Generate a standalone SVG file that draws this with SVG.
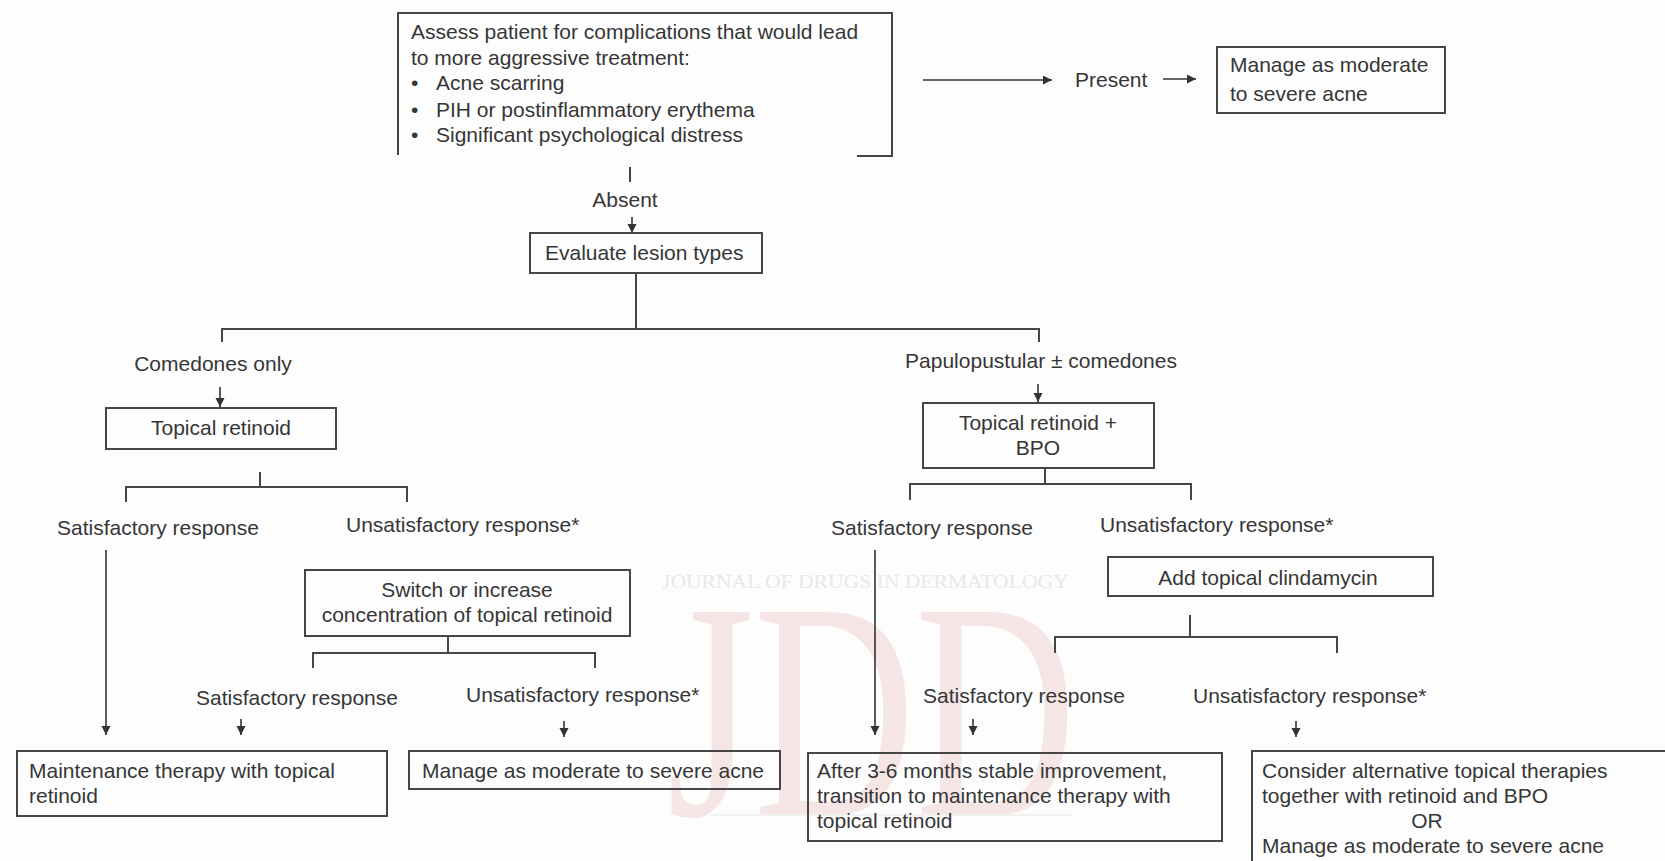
<svg xmlns="http://www.w3.org/2000/svg" width="1665" height="861" viewBox="0 0 1665 861">
<defs>
<marker id="ah" markerUnits="userSpaceOnUse" markerWidth="10" markerHeight="10" refX="9" refY="4.5" orient="auto">
<path d="M0,0 L9,4.5 L0,9 z" fill="#333"/>
</marker>
</defs>
<style>
.t{font-family:"Liberation Sans",Arial,sans-serif;font-size:21px;fill:#363636}
.c{text-anchor:middle}
.box{fill:none;stroke:#464646;stroke-width:2}
.ln{stroke:#464646;stroke-width:2;fill:none}
.ar{stroke:#333;stroke-width:1.6;fill:none;marker-end:url(#ah)}
.wm{font-family:"Liberation Serif","Times New Roman",serif}
</style>
<rect x="0" y="0" width="1665" height="861" fill="#fdfdfd"/>

<g id="watermark" opacity="0.5">
<text class="wm" transform="translate(662,588) scale(1.2,1)" font-size="18" fill="#d4d4d4">JOURNAL OF DRUGS IN DERMATOLOGY</text>
<text class="wm" transform="translate(667,815) scale(0.72,1)" font-size="310" fill="#efcfcf">JDD</text>
<line x1="711" y1="815" x2="1073" y2="815" stroke="#e6e6e6" stroke-width="2"/>
</g>

<g id="connectors">
<line class="ln" x1="630" y1="167" x2="630" y2="182"/>
<line class="ar" x1="632" y1="217" x2="632" y2="233"/>
<line class="ar" x1="923" y1="80" x2="1052" y2="80"/>
<line class="ar" x1="1163" y1="79" x2="1196" y2="79"/>
<line class="ln" x1="636" y1="273" x2="636" y2="329"/>
<path class="ln" d="M222,342 V329 H1039 V342"/>
<line class="ar" x1="220" y1="387" x2="220" y2="407"/>
<line class="ar" x1="1038" y1="384" x2="1038" y2="402"/>
<line class="ln" x1="260" y1="472" x2="260" y2="487"/>
<path class="ln" d="M126,502 V487 H407 V502"/>
<line class="ln" x1="1045" y1="468" x2="1045" y2="484"/>
<path class="ln" d="M910,500 V484 H1191 V500"/>
<line class="ar" x1="106" y1="550" x2="106" y2="735"/>
<line class="ar" x1="875" y1="550" x2="875" y2="735"/>
<line class="ln" x1="448" y1="636" x2="448" y2="653"/>
<path class="ln" d="M313,668 V653 H595 V668"/>
<line class="ln" x1="1190" y1="615" x2="1190" y2="637"/>
<path class="ln" d="M1055,653 V637 H1337 V653"/>
<line class="ar" x1="241" y1="719" x2="241" y2="735"/>
<line class="ar" x1="564" y1="721" x2="564" y2="737"/>
<line class="ar" x1="973" y1="719" x2="973" y2="735"/>
<line class="ar" x1="1296" y1="721" x2="1296" y2="737"/>
</g>

<g id="labels">
<text class="t c" x="625" y="207">Absent</text>
<text class="t" x="1075" y="87">Present</text>
<text class="t c" x="213" y="371">Comedones only</text>
<text class="t c" x="1041" y="368">Papulopustular ± comedones</text>
<text class="t" x="57" y="535">Satisfactory response</text>
<text class="t" x="346" y="532">Unsatisfactory response*</text>
<text class="t" x="831" y="535">Satisfactory response</text>
<text class="t" x="1100" y="532">Unsatisfactory response*</text>
<text class="t" x="196" y="705">Satisfactory response</text>
<text class="t" x="466" y="702">Unsatisfactory response*</text>
<text class="t" x="923" y="703">Satisfactory response</text>
<text class="t" x="1193" y="703">Unsatisfactory response*</text>
</g>

<g id="assess">
<path class="box" d="M398,155 V13 H892 V156 H857"/>
<text class="t" x="411" y="39">Assess patient for complications that would lead</text>
<text class="t" x="411" y="65">to more aggressive treatment:</text>
<text class="t" x="411" y="90">•</text>
<text class="t" x="436" y="90">Acne scarring</text>
<text class="t" x="411" y="117">•</text>
<text class="t" x="436" y="117">PIH or postinflammatory erythema</text>
<text class="t" x="411" y="142">•</text>
<text class="t" x="436" y="142">Significant psychological distress</text>
</g>

<g id="manage-top">
<rect class="box" x="1217" y="47" width="228" height="66"/>
<text class="t" x="1230" y="72">Manage as moderate</text>
<text class="t" x="1230" y="101">to severe acne</text>
</g>

<g id="evaluate">
<rect class="box" x="530" y="233" width="232" height="40"/>
<text class="t" x="545" y="260">Evaluate lesion types</text>
</g>

<g id="topical-retinoid">
<rect class="box" x="106" y="408" width="230" height="41"/>
<text class="t c" x="221" y="435">Topical retinoid</text>
</g>

<g id="retinoid-bpo">
<rect class="box" x="923" y="403" width="231" height="65"/>
<text class="t c" x="1038" y="430">Topical retinoid +</text>
<text class="t c" x="1038" y="455">BPO</text>
</g>

<g id="switch">
<rect class="box" x="305" y="570" width="325" height="66"/>
<text class="t c" x="467" y="597">Switch or increase</text>
<text class="t c" x="467" y="622">concentration of topical retinoid</text>
</g>

<g id="clindamycin">
<rect class="box" x="1108" y="557" width="325" height="39"/>
<text class="t c" x="1268" y="585">Add topical clindamycin</text>
</g>

<g id="maintenance">
<rect class="box" x="17" y="751" width="370" height="65"/>
<text class="t" x="29" y="778">Maintenance therapy with topical</text>
<text class="t" x="29" y="803">retinoid</text>
</g>

<g id="manage-bottom">
<rect class="box" x="409" y="751" width="371" height="38"/>
<text class="t" x="422" y="778">Manage as moderate to severe acne</text>
</g>

<g id="after">
<rect class="box" x="808" y="753" width="414" height="88"/>
<text class="t" x="817" y="778">After 3-6 months stable improvement,</text>
<text class="t" x="817" y="803">transition to maintenance therapy with</text>
<text class="t" x="817" y="828">topical retinoid</text>
</g>

<g id="consider">
<path class="box" d="M1252,870 V751 H1670"/>
<text class="t" x="1262" y="778">Consider alternative topical therapies</text>
<text class="t" x="1262" y="803">together with retinoid and BPO</text>
<text class="t c" x="1427" y="828">OR</text>
<text class="t" x="1262" y="853">Manage as moderate to severe acne</text>
</g>
</svg>
